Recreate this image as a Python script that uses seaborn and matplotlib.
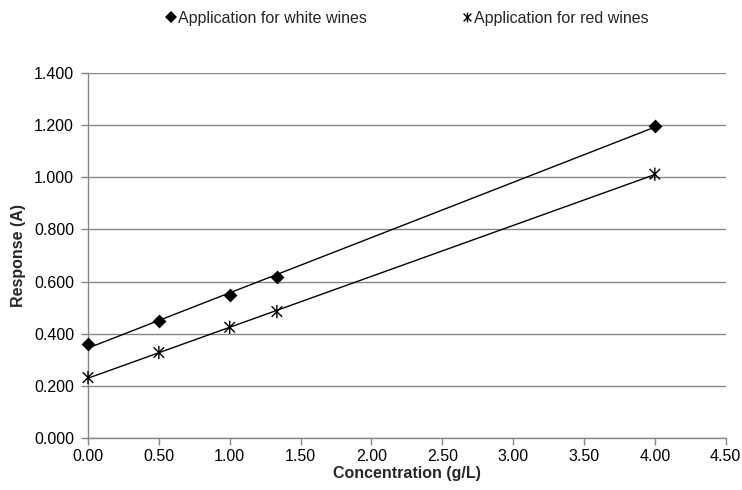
import numpy as np
import pandas as pd
import matplotlib
matplotlib.use("Agg")
import matplotlib.pyplot as plt
from matplotlib.path import Path
from matplotlib.lines import Line2D
import seaborn as sns

concentration = [0.0, 0.5, 1.0, 1.333, 4.0]
white_response = [0.359, 0.450, 0.549, 0.617, 1.198]
red_response = [0.232, 0.328, 0.425, 0.485, 1.012]
white_label = "Application for white wines"
red_label = "Application for red wines"
x_ticks = [0.0, 0.5, 1.0, 1.5, 2.0, 2.5, 3.0, 3.5, 4.0, 4.5]
y_ticks = [0.0, 0.2, 0.4, 0.6, 0.8, 1.0, 1.2, 1.4]

sns.set_style("white")
plt.rcParams['font.family'] = ['Liberation Sans', 'DejaVu Sans']

df = pd.DataFrame({"conc": concentration, "white": white_response, "red": red_response})

star = Path([(-1, -1), (1, 1), (-1, 1), (1, -1), (0, -1.25), (0, 1.25)],
            [Path.MOVETO, Path.LINETO, Path.MOVETO, Path.LINETO, Path.MOVETO, Path.LINETO])

fig = plt.figure(figsize=(7.42, 4.90), dpi=100)
ax = fig.add_axes([0.1186, 0.106, 0.8594, 0.745])

sns.regplot(data=df, x="conc", y="white", ax=ax, ci=None, truncate=True, marker="D",
            scatter_kws=dict(s=50, color="black", alpha=1, linewidths=0, zorder=4, clip_on=False),
            line_kws=dict(color="black", lw=1.0, zorder=3))
sns.regplot(data=df, x="conc", y="red", ax=ax, ci=None, truncate=True, marker=star,
            scatter_kws=dict(s=90, facecolors="none", edgecolors="black", color="black", alpha=1,
                             linewidths=1.0, zorder=4, clip_on=False),
            line_kws=dict(color="black", lw=1.0, zorder=3))

ax.set_xlim(0, 4.5)
ax.set_ylim(0, 1.4)
ax.set_xticks(x_ticks)
ax.set_yticks(y_ticks)
ax.set_xticklabels([f"{v:.2f}" for v in x_ticks], fontsize=11.5)
ax.set_yticklabels([f"{v:.3f}" for v in y_ticks], fontsize=11.5)
ax.set_xlabel("Concentration (g/L)", fontsize=11.5, fontweight="bold", labelpad=1)
ax.set_ylabel("Response (A)", fontsize=11.5, fontweight="bold", labelpad=6)

gray = "#868686"
ax.yaxis.grid(True, color=gray, lw=1.0)
ax.xaxis.grid(False)
ax.set_axisbelow(True)
for s in ["top", "right"]:
    ax.spines[s].set_visible(False)
for s in ["left", "bottom"]:
    ax.spines[s].set_color(gray)
    ax.spines[s].set_linewidth(1.0)
ax.tick_params(axis="both", direction="out", length=5, width=1.0, color=gray, labelcolor="black", pad=3)
ax.tick_params(axis="y", left=True, pad=5)
ax.tick_params(axis="x", bottom=True)

handles = [
    Line2D([], [], marker="D", color="black", linestyle="none", markersize=6, markeredgewidth=0),
    Line2D([], [], marker=star, color="black", linestyle="none", markersize=7, markerfacecolor="none", markeredgewidth=1.0),
]
fig.legend(handles, [white_label, red_label], loc="center", bbox_to_anchor=(0.549, 0.963),
           ncol=2, frameon=False, fontsize=11.5, handlelength=0.6, handletextpad=0.1, columnspacing=6.0)

fig.savefig("out.png", dpi=100)
